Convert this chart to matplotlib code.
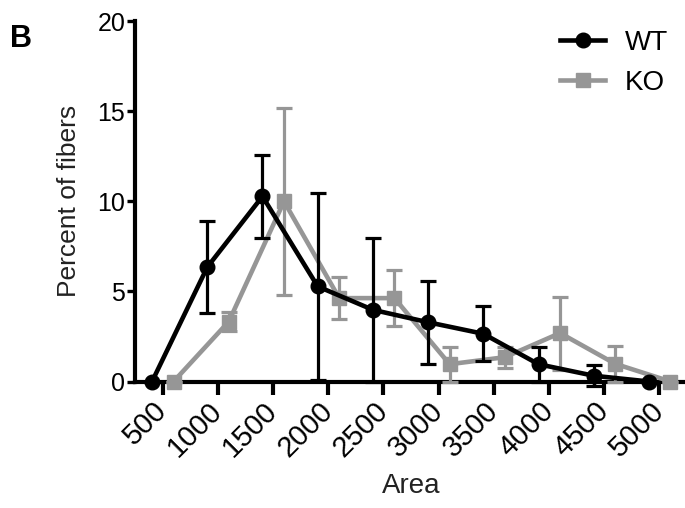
import numpy as np
import matplotlib
matplotlib.use("Agg")
import matplotlib.pyplot as plt
import matplotlib.transforms as mtransforms
from matplotlib.lines import Line2D

plt.rcParams['font.family'] = ['Liberation Sans', 'DejaVu Sans']

# Fiber area bins and percentages (mean +/- error)
areas = ['500', '1000', '1500', '2000', '2500', '3000', '3500', '4000', '4500', '5000']
wt_mean = [0, 6.35, 10.28, 5.28, 3.98, 3.29, 2.65, 0.96, 0.32, 0]
wt_err = [0, 2.55, 2.32, 5.18, 3.98, 2.31, 1.52, 0.98, 0.57, 0]
ko_mean = [0, 3.33, 10.0, 4.63, 4.63, 0.96, 1.35, 2.69, 0.98, 0]
ko_err = [0, 0.55, 5.2, 1.18, 1.55, 0.98, 0.58, 2.03, 1.0, 0]

WT_COLOR = 'black'
KO_COLOR = '#969696'

fig = plt.figure(figsize=(6.85, 5.08), dpi=100)
ax = fig.add_axes([0.197, 0.249, 0.806, 0.709])

x = np.arange(len(areas))
lw = 3.3
ms = 10.5

ax.errorbar(x + 0.2, ko_mean, yerr=ko_err, color=KO_COLOR, marker='s',
            markersize=ms, linewidth=lw, elinewidth=2.3, capsize=5.5,
            capthick=2.3, clip_on=False, zorder=3)
ax.errorbar(x - 0.19, wt_mean, yerr=wt_err, color=WT_COLOR, marker='o',
            markersize=ms, linewidth=lw, elinewidth=2.3, capsize=5.5,
            capthick=2.3, clip_on=False, zorder=4)

ax.set_xlim(-0.5, 9.5)
ax.set_ylim(0, 20)
ax.set_yticks([0, 5, 10, 15, 20])
ax.set_xticks(x)
ax.set_xticklabels(areas, rotation=45, ha='right', va='center',
                   rotation_mode='anchor')
# nudge rotated labels a little right, as in the original layout
shift = mtransforms.ScaledTranslation(0.05, -0.02, fig.dpi_scale_trans)
for lab in ax.get_xticklabels():
    lab.set_transform(lab.get_transform() + shift)

for side in ('top', 'right'):
    ax.spines[side].set_visible(False)
for side in ('left', 'bottom'):
    ax.spines[side].set_linewidth(3)
    ax.spines[side].set_capstyle('projecting')

ax.tick_params(axis='y', length=5.5, width=2.4, pad=1.5, labelsize=18)
ax.tick_params(axis='x', length=9, width=3, pad=9, labelsize=21)

ax.set_xlabel('Area', fontsize=20, color='#222222', labelpad=8)
ax.set_ylabel('Percent of fibers', fontsize=19, color='#222222', labelpad=12)

fig.text(0.015, 0.923, 'B', fontsize=22, fontweight='bold', va='center')

handles = [Line2D([], [], color=WT_COLOR, marker='o', markersize=ms, linewidth=lw),
           Line2D([], [], color=KO_COLOR, marker='s', markersize=ms, linewidth=lw)]
ax.legend(handles, ['WT', 'KO'], loc='upper right', bbox_to_anchor=(1.011, 1.045),
          frameon=False, fontsize=20, handlelength=1.6, handletextpad=0.72,
          labelspacing=0.5)

fig.savefig('out.png', dpi=100)
